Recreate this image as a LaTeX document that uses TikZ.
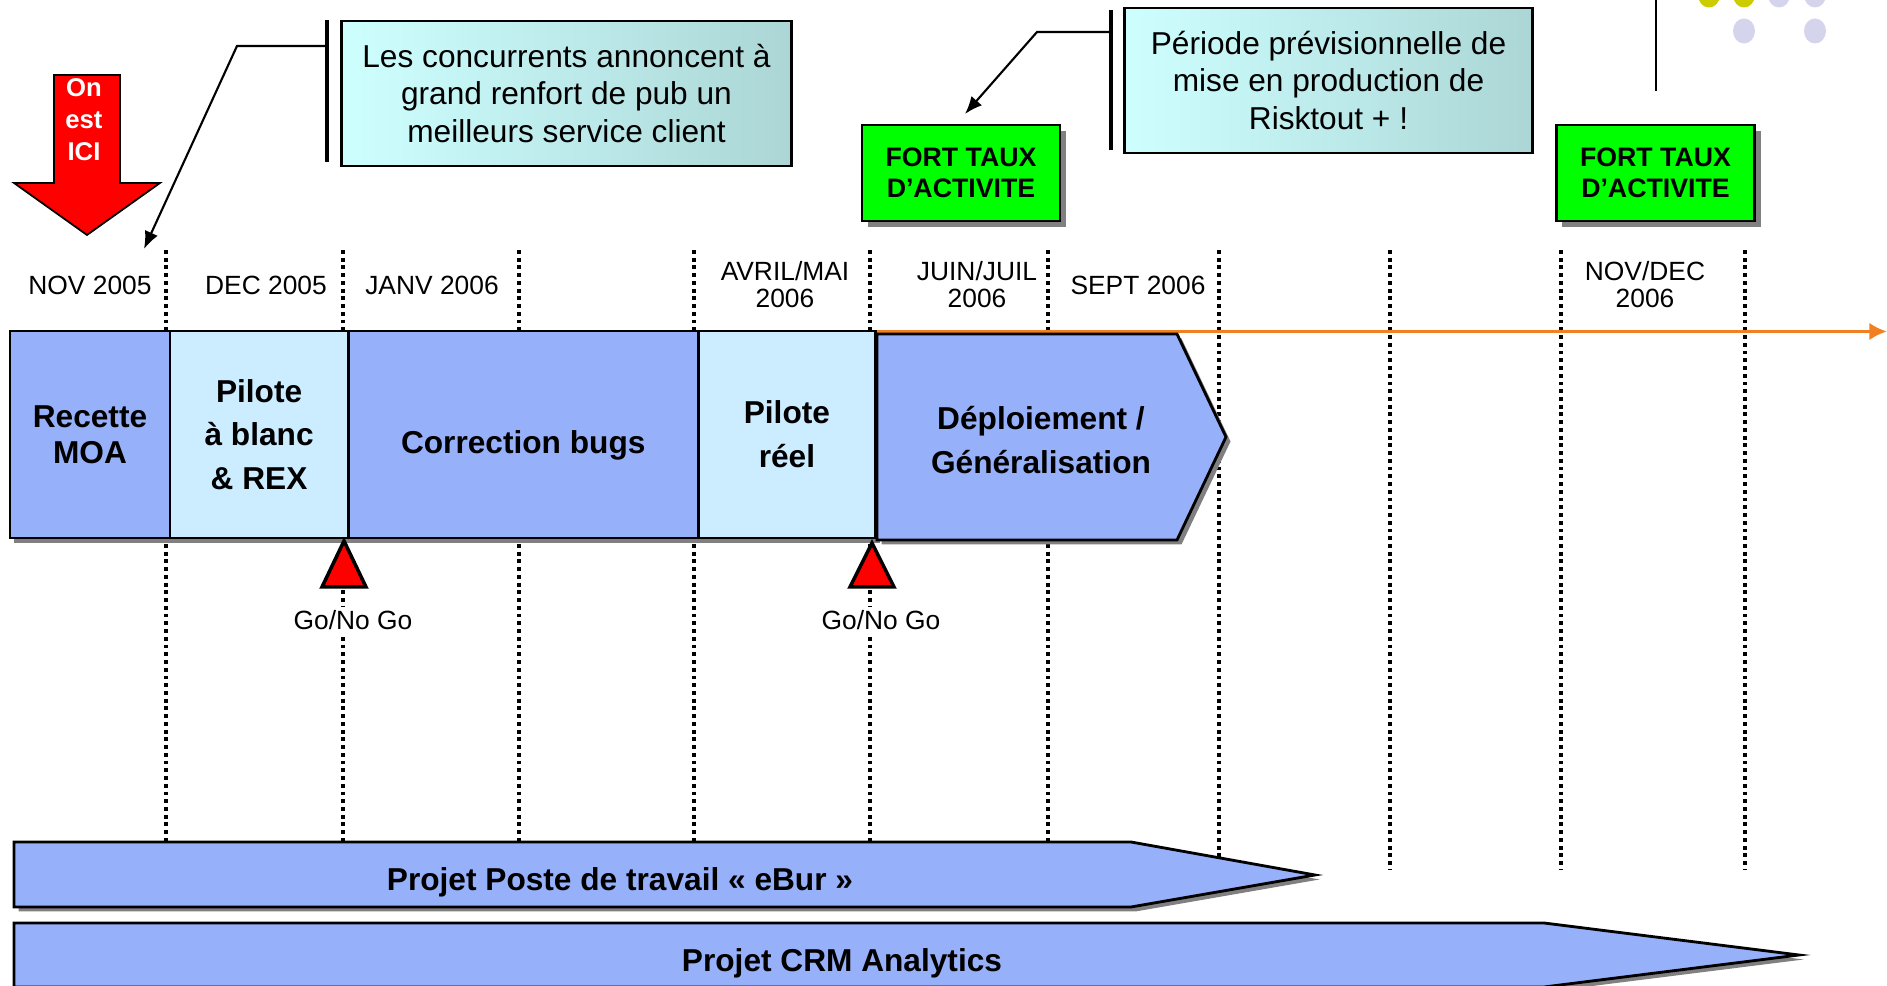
\documentclass[tikz,border=0pt]{standalone}
\usepackage{fontspec}
\setmainfont{Liberation Sans}
\usetikzlibrary{positioning,shadows,arrows.meta}

\definecolor{phaseblue}{RGB}{150,176,250}
\definecolor{pilotblue}{RGB}{204,236,255}
\definecolor{fortgreen}{RGB}{0,255,0}
\definecolor{lineorange}{RGB}{240,128,32}
\definecolor{calloutleft}{RGB}{206,255,255}
\definecolor{calloutright}{RGB}{172,214,214}
\definecolor{dotolive}{RGB}{204,204,0}
\definecolor{dotlilac}{RGB}{212,212,236}

\begin{document}
\begin{tikzpicture}[x=0.01cm,y=-0.01cm,
    boxshadow/.style={drop shadow={shadow xshift=0.045cm,shadow yshift=-0.045cm,fill=black!50,opacity=1}},
    phasebox/.style={draw,line width=0.8pt,fill=phaseblue,outer sep=0pt,inner sep=0pt,
      minimum height=2.07cm,align=center,font=\fontsize{9}{12.4}\selectfont\bfseries,boxshadow},
    phasefill/.style={draw,line width=0.8pt,fill=phaseblue,boxshadow},
    phasetext/.style={align=center,font=\fontsize{9}{12.4}\selectfont\bfseries},
    datelabel/.style={align=center,font=\fontsize{7.5}{7.7}\selectfont},
    callout/.style={draw,line width=0.8pt,left color=calloutleft,right color=calloutright,
      minimum height=1.45cm,align=center,font=\fontsize{9}{10.8}\selectfont},
    fort/.style={draw,line width=0.8pt,fill=fortgreen,minimum width=1.98cm,minimum height=0.96cm,
      align=center,font=\fontsize{7.6}{8.8}\selectfont\bfseries,
      drop shadow={shadow xshift=0.06cm,shadow yshift=-0.06cm,fill=black!50,opacity=1}},
    gate/.style={draw,line width=1pt,fill=red},
    months/.style={line width=1.1pt,dash pattern=on 1.1pt off 1.1pt}]
  \useasboundingbox (0,0) rectangle (1887,986);

  % months
  \draw[months] (166,250) -- (166,869) (343,250) -- (343,869) (519,250) -- (519,869)
    (694,250) -- (694,869) (870,250) -- (870,869) (1048,250) -- (1048,869)
    (1219,250) -- (1219,869) (1390,250) -- (1390,869) (1561,250) -- (1561,869)
    (1745,250) -- (1745,869);
  \draw[lineorange,line width=1pt,-{Latex[length=5pt,width=5pt]}] (30,331.5) -- (1887,331.5);

  \node[datelabel] (nov) at (90,285) {NOV 2005};
  \node[datelabel] (dec) at (266,285) {DEC 2005};
  \node[datelabel] (janv) at (432,285) {JANV 2006};
  \node[datelabel] (avril) at (785,285) {AVRIL/MAI\\2006};
  \node[datelabel] (juin) at (977,285) {JUIN/JUIL\\2006};
  \node[datelabel] (sept) at (1138,285) {SEPT 2006};
  \node[datelabel] (novdec) at (1645,285) {NOV/DEC\\2006};

  % phases
  \node[phasebox,minimum width=1.6cm,font=\fontsize{9}{10.3}\selectfont\bfseries] (recette) at (90,434.5) {Recette\\MOA};
  \node[phasebox,fill=pilotblue,minimum width=1.78cm,right=0pt of recette] (blanc) {Pilote\\à blanc\\\& REX};
  \node[phasebox,minimum width=3.5cm,right=0pt of blanc] (bugs) {\raisebox{-0.19cm}[0pt][0pt]{Correction bugs}};
  \node[phasebox,fill=pilotblue,minimum width=1.77cm,right=0pt of bugs] (reel) {Pilote\\réel};
  \draw[phasefill] (877,334) -- (1177,334) -- (1226,437) -- (1177,540) -- (877,540) -- cycle;
  \node[phasetext] (deploy) at (1041,440) {Déploiement /\\Généralisation};

  \coordinate (gate1) at (344,541);
  \coordinate (gate2) at (872,543);
  \draw[gate] (gate1) -- ++(22,46) -- ++(-44,0) -- cycle;
  \draw[gate] (gate2) -- ++(22,44) -- ++(-44,0) -- cycle;
  \node[datelabel,fill=white,inner sep=1pt] (go1) at (353,620) {Go/No Go};
  \node[datelabel,fill=white,inner sep=1pt] (go2) at (881,620) {Go/No Go};

  % projects
  \draw[phasefill] (14,842) -- (1131,842) -- (1315,875) -- (1131,907) -- (14,907) -- cycle;
  \node[phasetext] (ebur) at (620,882) {Projet Poste de travail « eBur »};
  \draw[phasefill] (14,923) -- (1544,923) -- (1799,955) -- (1544,987) -- (14,987) -- cycle;
  \node[phasetext] (crm) at (842,963) {Projet CRM Analytics};

  % on est ici
  \draw[fill=red,line width=0.5pt] (54,75) -- (120,75) -- (120,183) -- (160,183) -- (87,235)
    -- (14,183) -- (54,183) -- cycle;
  \node[text=white,align=center,font=\fontsize{7.3}{9.1}\selectfont\bfseries] (ici) at (84,120) {On\\est\\ICI};

  % callouts
  \node[callout,minimum width=4.49cm] (pub) at (566.5,93.5) {Les concurrents annoncent à\\grand renfort de pub un\\meilleurs service client};
  \draw[line width=0.9pt] (327,20) -- (327,162);
  \coordinate (pubbar) at (327,46);
  \coordinate (pubtip) at (144,249);
  \draw[line width=0.6pt,-{Latex[length=5pt,width=4pt]}] (pubbar) -- (237,46) -- (pubtip);

  \node[callout,minimum width=4.07cm] (risk) at (1328.5,80.5) {Période prévisionnelle de\\mise en production de\\Risktout + !};
  \draw[line width=0.9pt] (1111,10) -- (1111,150);
  \coordinate (riskbar) at (1111,32);
  \coordinate (risktip) at (965,114);
  \draw[line width=0.6pt,-{Latex[length=5pt,width=4pt]}] (riskbar) -- (1037,32) -- (risktip);

  \node[fort] (fort1) at (961,173) {FORT TAUX\\D’ACTIVITE};
  \node[fort] (fort2) at (1655.5,173) {FORT TAUX\\D’ACTIVITE};

  % corner
  \draw[line width=0.6pt] (1656,0) -- (1656,91);
  \fill[dotolive] (1709,-5) ellipse [x radius=0.11cm,y radius=0.125cm];
  \fill[dotolive] (1744,-5) ellipse [x radius=0.11cm,y radius=0.125cm];
  \fill[dotlilac] (1779,-5) ellipse [x radius=0.11cm,y radius=0.125cm];
  \fill[dotlilac] (1815,-5) ellipse [x radius=0.11cm,y radius=0.125cm];
  \fill[dotlilac] (1744,31) ellipse [x radius=0.11cm,y radius=0.125cm];
  \fill[dotlilac] (1815,31) ellipse [x radius=0.11cm,y radius=0.125cm];
\end{tikzpicture}
\end{document}
